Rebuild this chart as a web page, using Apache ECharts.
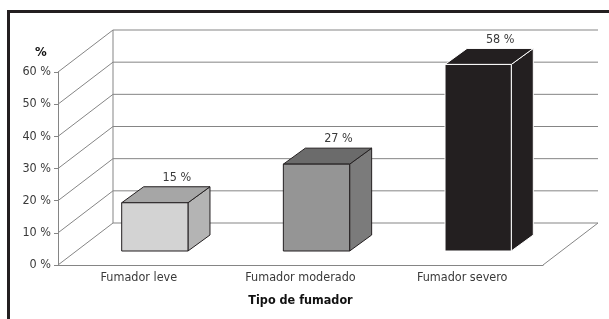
<!DOCTYPE html>
<html>
<head>
<meta charset="utf-8">
<script src="https://cdn.jsdelivr.net/npm/echarts@6/dist/echarts.min.js"></script>
<style>
  html, body { margin: 0; padding: 0; background: #fff; }
  #chart { width: 609px; height: 319px; }
</style>
</head>
<body>
<div id="chart"></div>
<script>
// datos
const categories = ["Fumador leve", "Fumador moderado", "Fumador severo"];
const percentages = [15, 27, 58];
const yTicks = [0, 10, 20, 30, 40, 50, 60];

const FONT = "'Liberation Sans Narrow', 'DejaVu Sans Condensed', sans-serif";
// profundidad de la caja 3D
const DEPTH_X = 55, DEPTH_Y = -42;
// colores de cada barra: frente, tapa, lado, borde
const barColors = [
  { front: "#d3d3d3", top: "#a6a6a6", side: "#b4b4b4", edge: "#231f20" },
  { front: "#959595", top: "#6b6b6b", side: "#7b7b7b", edge: "#231f20" },
  { front: "#231f20", top: "#231f20", side: "#231f20", edge: "#ffffff" },
];
const gridColor = "#858585";
const textColor = "#3a3a3a";

const myChart = echarts.init(document.getElementById("chart"));

// paredes y lineas de cuadricula en perspectiva
const renderWalls = (params, api) => {
  const cs = params.coordSys;
  const v = api.value(0);
  const y = api.coord([0, v])[1];
  const x0 = cs.x, x1 = cs.x + cs.width;
  const style = { stroke: gridColor, lineWidth: 1 };
  const children = [
    { type: "line", shape: { x1: x0, y1: y, x2: x0 + DEPTH_X, y2: y + DEPTH_Y }, style },
    { type: "line", shape: { x1: x0 + DEPTH_X, y1: y + DEPTH_Y, x2: x1 + DEPTH_X, y2: y + DEPTH_Y }, style },
  ];
  if (params.dataIndex === 0) {
    children.push({ type: "line", shape: { x1: x1, y1: y, x2: x1 + DEPTH_X, y2: y + DEPTH_Y }, style });
    const yTop = api.coord([0, yTicks[yTicks.length - 1]])[1];
    children.push({ type: "line", shape: { x1: x0 + DEPTH_X, y1: y + DEPTH_Y, x2: x0 + DEPTH_X, y2: yTop + DEPTH_Y }, style });
  }
  return { type: "group", children };
};

// barras 3D
const renderBar = (params, api) => {
  const i = api.value(0);
  const v = api.value(1);
  const c = api.coord([i, v]);
  const b = api.coord([i, 0]);
  const band = api.size([1, 0])[0];
  const w = band * 0.41;
  const cx = c[0] + 16;
  const top = c[1] - 14;
  const bottom = b[1] - 14;
  const L = cx - w / 2, R = cx + w / 2;
  const dx = 22, dy = -16;
  const col = barColors[i];
  const edge = { stroke: col.edge, lineWidth: 1 };
  return {
    type: "group",
    children: [
      { type: "polygon", shape: { points: [[R, top], [R + dx, top + dy], [R + dx, bottom + dy], [R, bottom]] },
        style: Object.assign({ fill: col.side }, edge) },
      { type: "polygon", shape: { points: [[L, top], [R, top], [R + dx, top + dy], [L + dx, top + dy]] },
        style: Object.assign({ fill: col.top }, edge) },
      { type: "rect", shape: { x: L, y: top, width: w, height: bottom - top },
        style: Object.assign({ fill: col.front }, edge) },
      { type: "text", x: cx + dx, y: top + dy - 9,
        style: { text: v + " %", fill: textColor, font: "12.5px " + FONT, align: "center", verticalAlign: "middle" } },
    ],
  };
};

const options = {
  animation: false,
  grid: { left: 58, right: 66, top: 72, bottom: 54 },
  title: {
    text: "%",
    left: 30,
    top: 41,
    textStyle: { fontFamily: FONT, fontSize: 13, fontWeight: "bold", color: "#111" },
  },
  graphic: [
    {
      type: "polyline",
      shape: { points: [[8.5, 319], [8.5, 11.5], [609, 11.5]] },
      style: { stroke: "#231f20", lineWidth: 3, fill: null },
    },
  ],
  xAxis: {
    type: "category",
    data: categories,
    name: "Tipo de fumador",
    nameLocation: "middle",
    nameGap: 29,
    nameTextStyle: { fontFamily: FONT, fontSize: 12.5, fontWeight: "bold", color: "#111" },
    axisLine: { lineStyle: { color: gridColor } },
    axisTick: { length: 4, lineStyle: { color: gridColor } },
    axisLabel: { fontFamily: FONT, fontSize: 12.5, color: textColor, margin: 6 },
    splitLine: { show: false },
  },
  yAxis: {
    type: "value",
    min: 0,
    max: 60,
    interval: 10,
    axisLine: { show: true, lineStyle: { color: gridColor } },
    axisTick: { show: true, length: 4, lineStyle: { color: gridColor } },
    axisLabel: { fontFamily: FONT, fontSize: 12.5, color: textColor, margin: 7, formatter: "{value} %" },
    splitLine: { show: false },
  },
  series: [
    {
      type: "custom",
      renderItem: renderWalls,
      data: yTicks.map((t) => [t]),
      encode: { y: 0 },
      silent: true,
      z: 1,
    },
    {
      type: "custom",
      renderItem: renderBar,
      data: percentages.map((p, i) => [i, p]),
      encode: { x: 0, y: 1 },
      z: 2,
    },
  ],
};
myChart.setOption(options);
</script>
</body>
</html>
